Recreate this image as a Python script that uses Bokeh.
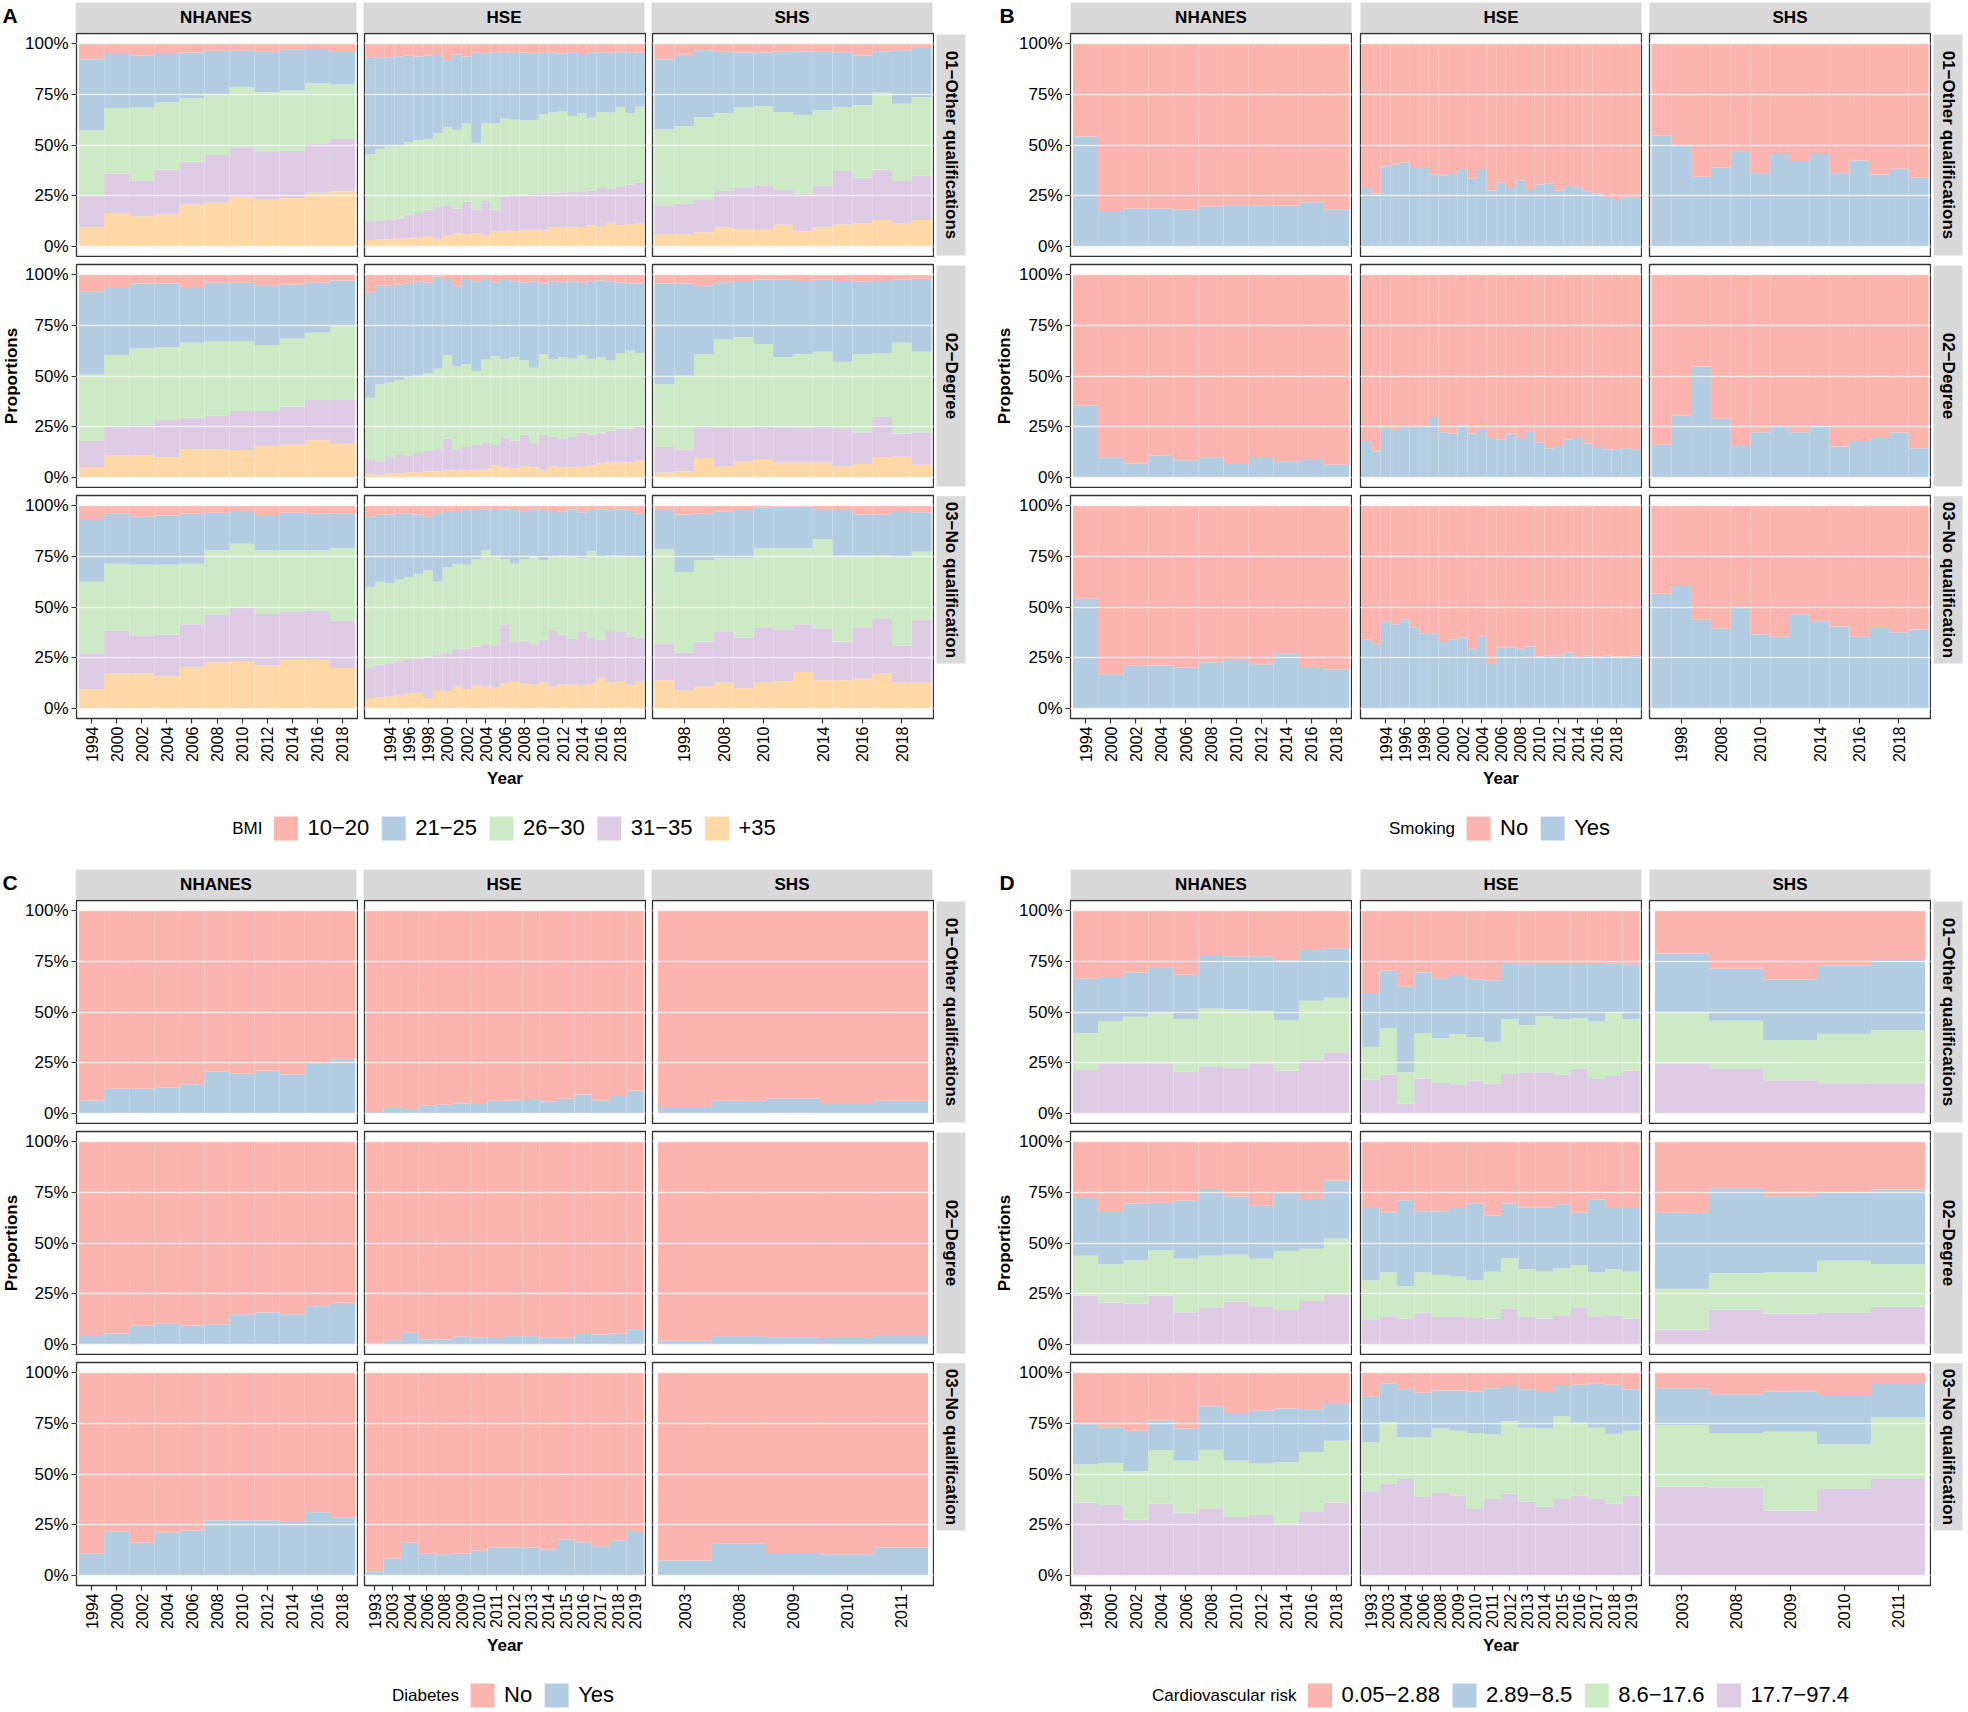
import math
from bokeh.plotting import figure
from bokeh.models import ColumnDataSource, Range1d, FixedTicker, Grid, Spacer
from bokeh.layouts import row, column
from bokeh.embed import file_html
from bokeh.resources import INLINE
from bokeh.core.properties import value

# ---------------------------------------------------------------- data
SOURCES = ["NHANES", "HSE", "SHS"]
EDUCATION = ["01\u2212Other qualifications", "02\u2212Degree", "03\u2212No qualification"]

NHANES_YEARS = [1994, 2000, 2002, 2004, 2006, 2008, 2010, 2012, 2014, 2016, 2018]
HSE_YEARS_AB = [1992, 1993, 1994, 1995, 1996, 1997, 1998, 1999, 2000, 2001, 2002, 2003, 2004, 2005,
                2006, 2007, 2008, 2009, 2010, 2011, 2012, 2013, 2014, 2015, 2016, 2017, 2018, 2019, 2020]
HSE_LABELS_AB = [1994, 1996, 1998, 2000, 2002, 2004, 2006, 2008, 2010, 2012, 2014, 2016, 2018]
SHS_YEARS_AB = [1995, 1998, 2003, 2008, 2009, 2010, 2011, 2012, 2014, 2015, 2016, 2017, 2018, 2019]
SHS_LABELS_AB = [1998, 2008, 2010, 2014, 2016, 2018]
HSE_YEARS_CD = [1993, 2003, 2004, 2006, 2008, 2009, 2010, 2011, 2012, 2013, 2014, 2015, 2016, 2017, 2018, 2019]
SHS_YEARS_CD = [2003, 2008, 2009, 2010, 2011]

BMI_LEVELS = ["10\u221220", "21\u221225", "26\u221230", "31\u221235", "+35"]
BIN_LEVELS = ["No", "Yes"]
CVR_LEVELS = ["0.05\u22122.88", "2.89\u22128.5", "8.6\u221217.6", "17.7\u221297.4"]
PASTEL = ["#FBB4AE", "#B3CDE3", "#CCEBC5", "#DECBE4", "#FED9A6"]

# Panel A (BMI): cumulative tops in %, bottom-up: +35, 31-35, 26-30, 21-25
A_NHANES_01 = [[9.4, 16.5, 14.7, 15.7, 20.6, 21.6, 24.5, 23.0, 23.9, 26.4, 27.2],
               [25.0, 36.0, 32.5, 37.9, 41.7, 45.1, 48.9, 46.5, 47.0, 50.9, 52.9],
               [57.2, 68.2, 68.5, 71.0, 73.0, 74.8, 78.6, 76.1, 76.9, 80.4, 79.9],
               [92.3, 95.4, 94.1, 95.4, 95.6, 96.5, 96.5, 96.0, 97.0, 97.4, 95.9]]
A_NHANES_02 = [[5.1, 10.6, 11.0, 9.9, 13.9, 13.9, 13.5, 15.5, 16.1, 18.3, 17.0],
               [17.9, 24.9, 26.0, 28.3, 29.4, 30.5, 32.7, 32.7, 34.9, 38.2, 38.2],
               [50.8, 60.3, 63.6, 64.2, 66.4, 67.3, 67.3, 65.3, 68.4, 71.3, 74.6],
               [91.6, 93.4, 95.6, 95.6, 93.4, 96.0, 96.0, 94.5, 95.1, 96.0, 97.1]]
A_NHANES_03 = [[9.5, 17.2, 17.2, 15.7, 20.1, 22.7, 23.2, 21.2, 23.8, 23.8, 19.9],
               [27.2, 38.2, 36.0, 36.4, 41.5, 46.4, 49.7, 46.6, 47.5, 48.1, 43.3],
               [62.5, 71.3, 70.9, 70.9, 71.3, 77.9, 81.2, 77.9, 77.9, 77.9, 79.0],
               [93.4, 96.0, 94.5, 95.1, 96.0, 96.5, 97.4, 94.9, 96.5, 96.0, 96.0]]
A_HSE_01 = [[3.1, 3.3, 3.5, 3.7, 4.0, 4.5, 5.0, 3.6, 5.5, 6.3, 6.0, 6.5, 5.5, 7.2, 7.5, 7.6, 7.9, 8.0, 7.8,
             9.5, 9.5, 9.3, 9.5, 10.4, 10.1, 11.6, 10.5, 11.0, 11.2],
            [12.4, 12.8, 13.1, 13.8, 15.7, 16.5, 18.1, 19.4, 19.9, 18.5, 22.0, 18.3, 22.4, 18.0, 24.7, 25.2,
             25.4, 25.9, 26.2, 26.5, 26.7, 27.2, 27.2, 27.5, 28.8, 28.3, 29.7, 30.5, 31.5],
            [45.6, 48.0, 49.2, 50.0, 51.5, 52.5, 53.0, 55.8, 58.8, 57.5, 60.6, 51.0, 60.6, 60.6, 62.9, 62.5,
             62.1, 62.3, 65.3, 66.0, 66.5, 64.3, 65.5, 63.5, 66.3, 66.0, 68.7, 65.8, 69.0],
            [93.0, 93.3, 93.3, 93.8, 94.0, 93.6, 94.2, 94.4, 91.8, 94.5, 93.7, 95.5, 95.2, 95.6, 95.8, 95.5,
             95.6, 95.3, 95.5, 95.6, 95.2, 95.8, 94.9, 95.8, 95.6, 95.5, 96.0, 95.8, 95.6]]
A_HSE_02 = [[1.5, 1.0, 2.0, 2.0, 2.5, 2.5, 3.0, 3.0, 3.5, 3.5, 3.5, 3.5, 4.0, 6.0, 5.0, 4.5, 5.5, 5.0, 3.5,
             5.5, 5.0, 5.0, 5.5, 6.0, 7.0, 7.5, 7.5, 7.5, 8.5],
            [9.0, 8.0, 10.0, 11.0, 10.5, 12.0, 13.0, 14.0, 19.0, 14.0, 15.0, 16.0, 17.0, 16.0, 19.5, 18.0,
             21.0, 17.0, 21.0, 20.0, 19.0, 20.0, 22.0, 21.0, 22.0, 23.0, 24.0, 24.0, 25.0],
            [39.3, 45.9, 47.0, 48.1, 49.2, 50.3, 51.4, 53.6, 60.3, 54.7, 55.8, 52.5, 58.1, 59.8, 58.5, 59.2,
             57.6, 54.1, 60.7, 58.1, 59.2, 58.5, 60.3, 58.5, 59.2, 57.6, 61.4, 62.5, 61.4],
            [91.2, 94.5, 94.5, 95.1, 95.6, 96.7, 96.0, 98.9, 97.4, 94.5, 97.8, 96.7, 97.8, 96.2, 97.4, 96.7,
             96.0, 96.7, 95.6, 96.7, 96.2, 96.7, 96.0, 96.7, 97.1, 96.7, 96.0, 95.6, 95.6]]
A_HSE_03 = [[5.1, 5.5, 5.7, 6.2, 7.3, 7.7, 5.1, 9.1, 8.4, 10.6, 9.5, 11.3, 10.6, 10.2, 12.4, 13.5, 12.1,
             11.7, 12.8, 10.6, 11.7, 11.7, 11.3, 12.1, 15.0, 12.8, 13.5, 11.7, 13.2],
            [20.5, 21.6, 22.3, 23.2, 23.8, 24.5, 25.4, 26.7, 27.2, 29.4, 29.4, 30.5, 31.6, 31.1, 41.5, 32.7,
             33.3, 31.6, 33.8, 38.2, 36.4, 34.2, 37.7, 34.9, 33.8, 38.2, 37.7, 35.5, 34.9],
            [59.8, 62.5, 61.8, 63.6, 64.7, 66.4, 68.0, 62.5, 69.5, 71.3, 70.9, 73.5, 77.9, 75.3, 73.5, 71.3,
             73.5, 74.6, 73.1, 74.6, 75.7, 74.6, 74.0, 77.5, 74.6, 75.7, 75.3, 74.8, 74.4],
            [94.5, 95.6, 95.6, 96.0, 96.0, 95.6, 94.5, 96.0, 97.4, 97.4, 97.8, 97.8, 98.2, 97.8, 98.2, 97.8,
             97.4, 98.2, 97.8, 97.4, 97.1, 98.2, 96.7, 97.8, 98.2, 97.8, 98.2, 97.4, 96.0]]
A_SHS_01 = [[6.0, 6.0, 7.0, 9.3, 8.4, 8.4, 10.6, 7.5, 9.3, 10.8, 11.5, 13.0, 11.2, 13.0],
            [20.3, 21.1, 22.9, 27.3, 29.1, 30.2, 27.8, 26.0, 30.2, 37.2, 33.9, 37.9, 32.2, 34.8],
            [57.7, 59.3, 63.7, 65.6, 68.5, 69.2, 66.3, 64.8, 67.0, 68.7, 69.6, 75.8, 70.3, 73.6],
            [92.3, 94.5, 96.7, 96.0, 95.6, 95.6, 96.0, 96.3, 96.0, 95.6, 94.1, 96.3, 96.7, 97.8]]
A_SHS_02 = [[2.4, 2.9, 9.5, 5.5, 7.7, 9.0, 7.3, 7.3, 7.3, 5.5, 6.6, 9.9, 10.2, 6.2],
            [15.0, 13.9, 24.8, 24.3, 24.6, 24.9, 24.7, 24.5, 24.9, 23.8, 22.3, 29.8, 21.6, 22.3],
            [45.9, 50.3, 60.7, 68.0, 69.1, 65.8, 59.2, 60.7, 62.0, 57.0, 60.7, 61.4, 66.4, 62.0],
            [95.6, 95.6, 94.5, 96.2, 96.9, 97.6, 97.6, 96.9, 97.6, 96.9, 96.5, 96.9, 97.6, 98.0]]
A_SHS_03 = [[13.9, 8.8, 10.6, 12.8, 9.9, 12.8, 13.5, 17.9, 13.9, 13.9, 14.6, 17.2, 12.8, 12.8],
            [32.0, 27.6, 33.0, 38.0, 35.0, 40.0, 39.0, 41.5, 39.5, 33.0, 40.0, 44.5, 31.0, 43.7],
            [78.4, 67.3, 73.0, 74.0, 74.0, 79.0, 79.0, 79.0, 83.4, 75.7, 75.3, 75.7, 74.6, 77.3],
            [97.8, 95.6, 96.0, 97.1, 97.8, 98.9, 99.5, 99.5, 97.8, 97.8, 95.6, 95.6, 97.4, 96.7]]

# Panel B (smoking): share "Yes" in %
B_NHANES_01 = [[54.2, 17.4, 18.5, 18.5, 18.1, 19.8, 20.3, 20.3, 20.1, 21.8, 18.1]]
B_NHANES_02 = [[35.5, 9.9, 6.8, 10.6, 8.4, 9.9, 6.6, 9.5, 7.9, 9.0, 6.2]]
B_NHANES_03 = [[54.1, 16.8, 21.0, 21.2, 20.1, 22.7, 23.8, 21.8, 27.2, 19.9, 19.0]]
B_HSE_01 = [[28.8, 25.9, 39.5, 40.4, 41.4, 38.7, 38.7, 35.4, 34.9, 35.7, 38.2, 33.3, 38.2, 27.5, 31.6,
             28.8, 32.5, 27.8, 30.5, 31.1, 27.5, 29.8, 29.2, 27.2, 26.2, 23.9, 22.9, 24.5, 24.0]]
B_HSE_02 = [[17.9, 12.8, 24.3, 23.4, 24.9, 24.9, 24.9, 29.8, 22.3, 21.6, 26.0, 21.6, 23.8, 19.4, 18.8,
             21.6, 19.4, 22.7, 17.2, 14.3, 15.5, 18.8, 19.4, 16.8, 15.0, 13.9, 13.9, 14.3, 13.9]]
B_HSE_03 = [[33.8, 31.6, 43.0, 41.5, 43.7, 40.0, 37.1, 37.1, 32.7, 33.8, 34.9, 29.4, 35.5, 21.9, 30.0,
             30.0, 29.4, 30.5, 25.4, 26.0, 26.0, 27.6, 24.9, 26.0, 25.4, 26.0, 25.4, 25.4, 26.0]]
B_SHS_01 = [[54.8, 49.8, 34.4, 38.8, 47.1, 36.1, 45.6, 42.1, 45.6, 36.1, 42.3, 35.5, 38.3, 33.9]]
B_SHS_02 = [[16.1, 30.5, 54.7, 28.9, 15.5, 22.3, 24.9, 22.3, 25.8, 15.2, 17.9, 19.4, 22.1, 14.3]]
B_SHS_03 = [[56.5, 60.3, 43.7, 39.3, 49.9, 36.4, 35.3, 46.4, 43.0, 40.4, 35.3, 39.7, 37.5, 38.9]]

# Panel C (diabetes): share "Yes" in %
C_NHANES_01 = [[6.4, 12.1, 12.1, 12.6, 14.3, 20.5, 19.6, 21.0, 19.2, 24.3, 27.0]]
C_NHANES_02 = [[4.6, 5.3, 9.3, 10.2, 9.3, 9.9, 14.8, 15.7, 14.8, 18.8, 20.5]]
C_NHANES_03 = [[10.6, 21.6, 16.1, 21.2, 22.1, 27.2, 27.2, 27.2, 26.3, 31.1, 28.7]]
C_HSE_01 = [[0.7, 2.7, 1.6, 3.8, 4.2, 4.9, 4.6, 6.2, 6.4, 6.6, 5.8, 7.3, 9.3, 6.4, 8.6, 11.3]]
C_HSE_02 = [[0.4, 2.0, 5.7, 2.4, 2.4, 3.8, 3.3, 3.1, 4.0, 4.0, 3.3, 3.3, 5.1, 4.9, 5.3, 7.5]]
C_HSE_03 = [[2.0, 8.4, 16.1, 10.6, 10.4, 10.8, 12.1, 13.7, 13.9, 13.7, 12.8, 17.7, 16.3, 14.3, 17.2, 21.4]]
C_SHS_01 = [[3.1, 6.2, 7.3, 4.6, 6.2]]
C_SHS_02 = [[1.8, 4.0, 3.5, 3.1, 4.6]]
C_SHS_03 = [[7.3, 15.9, 11.0, 10.4, 13.7]]

# Panel D (cardiovascular risk): cumulative tops in %, bottom-up: 17.7-97.4, 8.6-17.6, 2.89-8.5
D_NHANES_01 = [[21.4, 24.7, 24.7, 24.7, 20.5, 23.2, 22.5, 24.7, 21.0, 26.5, 30.2],
               [39.5, 45.5, 47.7, 49.4, 46.6, 51.7, 51.2, 50.6, 46.0, 55.6, 57.0],
               [66.4, 67.3, 69.5, 71.7, 68.4, 78.1, 77.5, 77.5, 75.5, 80.6, 81.5]]
D_NHANES_02 = [[24.1, 20.5, 20.1, 24.1, 15.9, 18.3, 21.0, 18.8, 17.0, 21.4, 24.3],
               [43.7, 39.5, 41.5, 46.4, 42.2, 43.7, 44.2, 42.2, 46.0, 47.2, 52.1],
               [72.2, 65.3, 69.5, 69.8, 70.9, 76.2, 72.8, 68.4, 74.6, 71.7, 80.8]]
D_NHANES_03 = [[36.0, 34.7, 27.6, 35.3, 30.9, 33.1, 28.9, 29.8, 25.4, 31.6, 36.0],
               [54.7, 55.4, 51.4, 61.8, 56.5, 62.0, 56.5, 55.2, 55.8, 60.9, 66.4],
               [75.1, 72.8, 71.3, 76.4, 72.4, 83.4, 80.1, 81.2, 82.3, 81.9, 85.0]]
D_HSE_01 = [[16.6, 19.2, 4.9, 17.2, 15.0, 14.3, 16.1, 14.6, 19.4, 20.3, 20.3, 19.2, 22.1, 17.0, 18.8, 21.0],
            [32.7, 42.0, 20.3, 39.7, 37.1, 39.1, 37.5, 35.3, 46.4, 43.5, 47.9, 46.4, 46.8, 45.3, 49.7, 46.4],
            [59.4, 70.4, 62.5, 69.5, 66.7, 68.2, 66.2, 65.6, 74.2, 73.5, 74.2, 74.2, 74.2, 74.2, 74.0, 73.5]]
D_HSE_02 = [[12.4, 13.9, 12.8, 15.7, 13.5, 13.9, 13.0, 12.8, 17.7, 13.5, 12.6, 14.3, 18.3, 13.9, 14.3, 12.8],
            [31.6, 35.5, 28.7, 35.5, 34.2, 33.3, 31.6, 35.8, 42.6, 37.1, 36.0, 37.5, 39.1, 35.5, 37.1, 36.0],
            [67.3, 65.1, 71.1, 65.6, 65.6, 67.3, 69.5, 63.6, 69.5, 67.5, 67.5, 69.1, 65.1, 71.3, 67.3, 67.3]]
D_HSE_03 = [[41.5, 45.3, 47.5, 38.6, 40.8, 39.3, 33.1, 37.7, 40.4, 36.4, 33.8, 37.7, 39.3, 37.7, 35.3, 39.3],
            [65.8, 75.7, 68.0, 68.0, 72.4, 71.3, 70.2, 69.5, 76.2, 72.8, 72.4, 78.4, 75.3, 72.8, 69.8, 71.3],
            [88.3, 94.5, 91.8, 90.1, 91.2, 91.2, 90.7, 92.3, 93.4, 91.8, 90.5, 93.4, 94.0, 94.5, 94.0, 91.8]]
D_SHS_01 = [[24.3, 22.3, 16.3, 14.8, 14.8],
            [49.9, 45.7, 36.2, 39.3, 41.1],
            [78.8, 71.3, 66.0, 72.8, 76.2]]
D_SHS_02 = [[7.3, 17.2, 15.2, 15.5, 18.5],
            [27.4, 35.1, 35.5, 41.3, 39.5],
            [64.9, 77.0, 73.1, 74.8, 76.4]]
D_SHS_03 = [[43.7, 43.3, 32.0, 42.6, 47.5],
            [74.2, 70.2, 70.9, 64.7, 77.9],
            [92.3, 89.4, 90.7, 89.0, 94.9]]

# ---------------------------------------------------------------- style
FONT = "Liberation Sans"
STRIP = "#D9D9D9"
BORDER = "#333333"
FRAME_W, FRAME_H = 281, 223

CW = {c: 0.556 for c in "0123456789"}
CW.update({".": 0.278, "\u2212": 0.584, "+": 0.584, " ": 0.278, "B": 0.667, "M": 0.833, "I": 0.278,
           "S": 0.667, "m": 0.833, "o": 0.556, "k": 0.5, "i": 0.222, "n": 0.556, "g": 0.556, "N": 0.722,
           "Y": 0.667, "e": 0.556, "s": 0.5, "D": 0.722, "a": 0.556, "b": 0.556, "t": 0.278, "C": 0.722,
           "r": 0.333, "d": 0.556, "v": 0.5, "c": 0.5, "u": 0.556, "l": 0.222})


def text_width(s, size):
    return sum(CW.get(ch, 0.556) for ch in s) * size


def blank(w, h):
    p = figure(width=w, height=h, x_range=Range1d(0, w), y_range=Range1d(0, h), min_border=0,
               toolbar_location=None, tools="", output_backend="svg",
               x_axis_location=None, y_axis_location=None)
    p.outline_line_color = None
    p.xgrid.visible = False
    p.ygrid.visible = False
    p.background_fill_color = "white"
    p.border_fill_color = "white"
    return p


def txt(p, x, y, s, size, bold=False, align="center", baseline="middle", angle=0.0, color="black"):
    p.text(x=[x], y=[y], text=[s], text_font=value(FONT), text_font_size=value(f"{size}px"),
           text_font_style=value("bold" if bold else "normal"), text_align=value(align),
           text_baseline=value(baseline), angle=angle, text_color=color)


def facet(bounds, years, labels, stack_colors, mbl, first_col, last_row, year_title):
    n = len(years)
    data = {"x": [i + 1 for i in range(n)]}
    prev = [0.0] * n
    names = []
    for k in range(len(stack_colors)):
        top = bounds[k] if k < len(bounds) else [100.0] * n
        data[f"c{k}"] = [t - q for t, q in zip(top, prev)]
        names.append(f"c{k}")
        prev = top
    src = ColumnDataSource(data)
    p = figure(frame_width=FRAME_W, frame_height=FRAME_H,
               x_range=Range1d(0.4, n + 0.6), y_range=Range1d(-5, 105),
               min_border_left=mbl, min_border_right=1, min_border_top=1,
               min_border_bottom=72 if last_row else 1,
               toolbar_location=None, tools="", output_backend="svg",
               x_axis_location="below" if last_row else None,
               y_axis_location="left" if first_col else None)
    p.xgrid.visible = False
    p.ygrid.visible = False
    p.background_fill_color = "white"
    p.border_fill_color = "white"
    p.outline_line_color = BORDER
    p.outline_line_width = 1.3
    p.vbar_stack(names, x="x", width=1.0, fill_color=stack_colors, line_color=None, source=src)
    p.add_layout(Grid(dimension=1, ticker=FixedTicker(ticks=[0, 25, 50, 75, 100]),
                      grid_line_color="#F4F4F4", grid_line_width=1.6, grid_line_alpha=0.85,
                      level="overlay"))
    if first_col:
        ax = p.yaxis[0]
        ax.ticker = FixedTicker(ticks=[0, 25, 50, 75, 100])
        ax.major_label_overrides = {0: "0%", 25: "25%", 50: "50%", 75: "75%", 100: "100%"}
        ax.major_label_text_font = FONT
        ax.major_label_text_font_size = "17px"
        ax.major_label_text_color = "black"
        ax.major_label_standoff = 3
        ax.major_tick_out = 5
        ax.major_tick_in = 0
        ax.major_tick_line_color = BORDER
        ax.major_tick_line_width = 1.2
        ax.minor_tick_line_color = None
        ax.axis_line_color = None
    if last_row:
        ax = p.xaxis[0]
        ticks = [years.index(y) + 1 for y in labels]
        ax.ticker = FixedTicker(ticks=ticks)
        ax.major_label_overrides = {t: str(y) for t, y in zip(ticks, labels)}
        ax.major_label_orientation = math.pi / 2
        ax.major_label_text_font = FONT
        ax.major_label_text_font_size = "16px"
        ax.major_label_text_color = "black"
        ax.major_label_standoff = 3
        ax.major_tick_out = 5
        ax.major_tick_in = 0
        ax.major_tick_line_color = BORDER
        ax.major_tick_line_width = 1.2
        ax.minor_tick_line_color = None
        ax.axis_line_color = None
        if year_title:
            ax.axis_label = "Year"
            ax.axis_label_text_font = FONT
            ax.axis_label_text_font_size = "17px"
            ax.axis_label_text_font_style = "bold"
            ax.axis_label_text_color = "black"
            ax.axis_label_standoff = 4
    return p


def legend_fig(w, h, yc_top, cx, title, levels, colors):
    p = blank(w, h)
    yc = h - yc_top
    tw = text_width(title, 17)
    lws = [text_width(l, 22) for l in levels]
    total = tw + 11 + len(levels) * 34 + sum(lws) + (len(levels) - 1) * 12
    x = cx - total / 2
    txt(p, x, yc, title, 17, align="left")
    x += tw + 11
    for lvl, col, lw in zip(levels, colors, lws):
        p.rect(x=[x + 12.5], y=[yc], width=25, height=25, fill_color=col, line_color="white", line_width=1)
        x += 34
        txt(p, x, yc + 1, lvl, 22, align="left")
        x += lw + 12
    return p


# layout geometry (pixels): left panels A/C start at x=0, right panels B/D at x=993
SIDE = {
    "left": dict(panel_w=993, corner_w=75, letter_x=2, strip_w=[282, 288, 288], strip_l=[0, 6, 6],
                 prop_w=22, mbl=[53, 6, 6], rs_w=32, rs_l=2, leg_cx=503.5),
    "right": dict(panel_w=975, corner_w=77, letter_x=6, strip_w=[282, 290, 289], strip_l=[0, 8, 7],
                  prop_w=22, mbl=[55, 8, 7], rs_w=33, rs_l=2, leg_cx=507),
}
HALF = {
    "top": dict(strip_h=32, strip_top=2, strip_bot=32, letter_top=3, leg_h=76, leg_yc=37),
    "bottom": dict(strip_h=32, strip_top=2, strip_bot=32, letter_top=3, leg_h=56, leg_yc=37),
}


def build_panel(P, side, half):
    g, v = SIDE[side], HALF[half]
    corner = blank(g["corner_w"], v["strip_h"])
    txt(corner, g["letter_x"], v["strip_h"] - v["letter_top"], P["letter"], 21, bold=True,
        align="left", baseline="top")
    strips = [corner]
    for j, src in enumerate(SOURCES):
        s = blank(g["strip_w"][j], v["strip_h"])
        l = g["strip_l"][j]
        top, bot = v["strip_h"] - v["strip_top"], v["strip_h"] - v["strip_bot"]
        s.quad(left=[l], right=[l + FRAME_W], bottom=[bot], top=[top], fill_color=STRIP, line_color=None)
        txt(s, l + FRAME_W / 2, (top + bot) / 2, src, 17, bold=True)
        strips.append(s)
    items = []
    stack_colors = P["colors"][::-1]
    for i, edu in enumerate(EDUCATION):
        last = i == 2
        figs = []
        for j, src in enumerate(SOURCES):
            figs.append(facet(P["data"][src][i], P["years"][src], P["labels"][src], stack_colors,
                              g["mbl"][j], j == 0, last, last and j == 1))
        h = FRAME_H + (73 if last else 2)
        rs = blank(g["rs_w"], h)
        top, bot = h - 1, h - 1 - FRAME_H
        rs.quad(left=[g["rs_l"]], right=[g["rs_l"] + 29], bottom=[bot], top=[top], fill_color=STRIP,
                line_color=None)
        txt(rs, g["rs_l"] + 14.5, (top + bot) / 2, edu, 17, bold=True, angle=-math.pi / 2)
        items.append(row(*figs, rs))
        if not last:
            items.append(Spacer(width=10, height=6))
    grid_col = column(*items)
    prop_h = 2 * (FRAME_H + 2) + 2 * 6 + FRAME_H + 73
    prop = blank(g["prop_w"], prop_h)
    txt(prop, g["prop_w"] / 2, prop_h - (FRAME_H + 2 + 6 + 1 + FRAME_H / 2), "Proportions", 17,
        bold=True, angle=math.pi / 2)
    leg = legend_fig(g["panel_w"], v["leg_h"], v["leg_yc"], g["leg_cx"], P["legend_title"],
                     P["levels"], P["colors"])
    return column(row(*strips), row(prop, grid_col), leg)


YEARS_AB = {"NHANES": NHANES_YEARS, "HSE": HSE_YEARS_AB, "SHS": SHS_YEARS_AB}
LABELS_AB = {"NHANES": NHANES_YEARS, "HSE": HSE_LABELS_AB, "SHS": SHS_LABELS_AB}
YEARS_CD = {"NHANES": NHANES_YEARS, "HSE": HSE_YEARS_CD, "SHS": SHS_YEARS_CD}

PANEL_A = dict(letter="A", legend_title="BMI", levels=BMI_LEVELS, colors=PASTEL[:5],
               years=YEARS_AB, labels=LABELS_AB,
               data={"NHANES": [A_NHANES_01, A_NHANES_02, A_NHANES_03],
                     "HSE": [A_HSE_01, A_HSE_02, A_HSE_03],
                     "SHS": [A_SHS_01, A_SHS_02, A_SHS_03]})
PANEL_B = dict(letter="B", legend_title="Smoking", levels=BIN_LEVELS, colors=PASTEL[:2],
               years=YEARS_AB, labels=LABELS_AB,
               data={"NHANES": [B_NHANES_01, B_NHANES_02, B_NHANES_03],
                     "HSE": [B_HSE_01, B_HSE_02, B_HSE_03],
                     "SHS": [B_SHS_01, B_SHS_02, B_SHS_03]})
PANEL_C = dict(letter="C", legend_title="Diabetes", levels=BIN_LEVELS, colors=PASTEL[:2],
               years=YEARS_CD, labels=YEARS_CD,
               data={"NHANES": [C_NHANES_01, C_NHANES_02, C_NHANES_03],
                     "HSE": [C_HSE_01, C_HSE_02, C_HSE_03],
                     "SHS": [C_SHS_01, C_SHS_02, C_SHS_03]})
PANEL_D = dict(letter="D", legend_title="Cardiovascular risk", levels=CVR_LEVELS, colors=PASTEL[:4],
               years=YEARS_CD, labels=YEARS_CD,
               data={"NHANES": [D_NHANES_01, D_NHANES_02, D_NHANES_03],
                     "HSE": [D_HSE_01, D_HSE_02, D_HSE_03],
                     "SHS": [D_SHS_01, D_SHS_02, D_SHS_03]})

layout = column(
    row(build_panel(PANEL_A, "left", "top"), build_panel(PANEL_B, "right", "top")),
    row(build_panel(PANEL_C, "left", "bottom"), build_panel(PANEL_D, "right", "bottom")),
)

with open("out.html", "w") as f:
    f.write(file_html(layout, INLINE, title="Proportions by year"))
